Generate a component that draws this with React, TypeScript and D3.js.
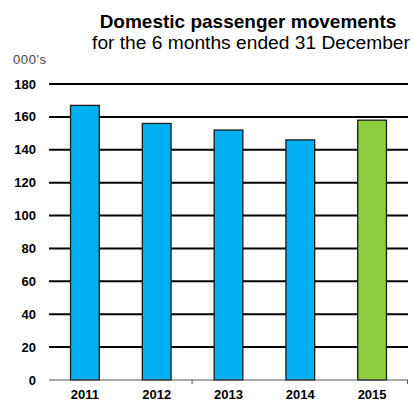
import React from "react";
import * as d3 from "d3";

const categories = ["2011", "2012", "2013", "2014", "2015"];
const values = [167, 156, 152, 146, 158];
const yTicks = [0, 20, 40, 60, 80, 100, 120, 140, 160, 180];
const barColors = ["#00B0F0", "#00B0F0", "#00B0F0", "#00B0F0", "#8DCF3F"];
const title = "Domestic passenger movements";
const subtitle = "for the 6 months ended 31 December";
const unitLabel = "000's";
const axisTickBoundaries = [2, 5];

export default function App() {
  const W = 413, H = 401;
  const x0 = 49, x1 = 408, yBottom = 380, yTop = 84;
  const x = d3.scaleBand().domain(categories).range([x0, x1]).paddingInner(0.6).paddingOuter(0.3);
  const y = d3.scaleLinear().domain([0, 180]).range([yBottom, yTop]);
  const step = (x1 - x0) / categories.length;
  const font = "'Liberation Sans', Arial, sans-serif";
  return (
    <svg width={W} height={H} style={{ position: "absolute", left: 0, top: 0, background: "#fff" }}>
      <text x={248} y={28} textAnchor="middle" fontFamily={font} fontWeight="bold" fontSize={19} fill="#000">{title}</text>
      <text x={251} y={49} textAnchor="middle" fontFamily={font} fontSize={19.2} fill="#000">{subtitle}</text>
      <text x={13} y={64} fontFamily={font} fontSize={13} fill="#444" textLength={33}>{unitLabel}</text>
      {yTicks.map((t) => (
        <g key={t}>
          {t > 0 && <line x1={x0} x2={x1} y1={y(t)} y2={y(t)} stroke="#000" strokeWidth={2} />}
          <text x={36} y={y(t)} dy="0.35em" textAnchor="end" fontFamily={font} fontWeight="bold" fontSize={13} fill="#000">{t}</text>
        </g>
      ))}
      {categories.map((c, i) => (
        <rect key={c} x={x(c)!} y={y(values[i])} width={x.bandwidth()} height={yBottom - y(values[i])}
          fill={barColors[i]} stroke="#1a1a1a" strokeWidth={1.3} />
      ))}
      <line x1={x0} x2={x1} y1={yBottom} y2={yBottom} stroke="#555" strokeWidth={1} />
      {axisTickBoundaries.map((b) => (
        <line key={b} x1={x0 + b * step - 0.5} x2={x0 + b * step - 0.5} y1={yBottom} y2={yBottom + 4} stroke="#555" strokeWidth={1} />
      ))}
      {categories.map((c) => (
        <text key={c} x={x(c)! + x.bandwidth() / 2} y={399} textAnchor="middle" fontFamily={font} fontWeight="bold" fontSize={13} fill="#000">{c}</text>
      ))}
    </svg>
  );
}
